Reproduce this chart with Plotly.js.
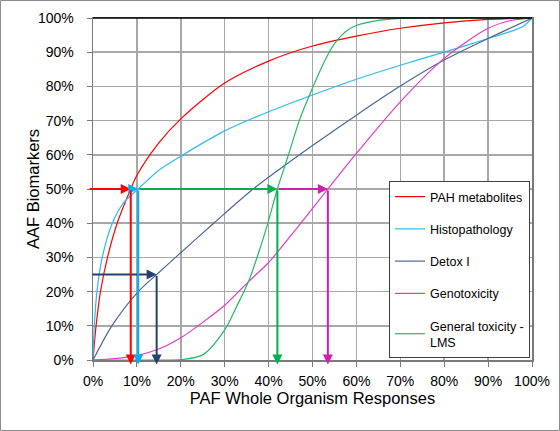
<!DOCTYPE html>
<html>
<head>
<meta charset="utf-8">
<script src="https://cdn.plot.ly/plotly-3.0.1.min.js"></script>
<style>html,body{margin:0;padding:0;background:#fff;}#chart{width:560px;height:431px;}</style>
</head>
<body>
<div id="chart"></div>
<script>
// ---- Data (percent) ----
const seriesNames = ['PAH metabolites', 'Histopathology', 'Detox I', 'Genotoxicity', 'General toxicity -<br>LMS'];
const seriesColors = ['#ff0000', '#2dbcf2', '#4a6894', '#e03cc4', '#25b868'];
const arrowColors = ['#ff0000', '#00b0f0', '#24416f', '#d01fae', '#00b050'];

const pahX = [0, 0.7, 1.7, 3.3, 5.5, 8.6, 10, 15, 20, 30, 40, 50, 60, 70, 80, 90, 100];
const pahY = [0, 10, 20, 30, 40, 50, 54, 63.5, 70.5, 81, 87.4, 91.8, 94.7, 97, 98.6, 99.6, 100];

const histoX = [0, 0.3, 0.9, 2.1, 4.4, 7, 10.3, 15, 20, 30, 40, 50, 60, 70, 80, 90, 95, 98, 100];
const histoY = [0, 10, 20, 30, 40, 46, 50, 55.5, 59.6, 67, 72.6, 77.5, 82.1, 86.2, 90, 94, 96, 97.6, 100];

const detoxX = [0, 4.3, 10.3, 14.5, 18.8, 27.5, 36.5, 50, 60, 70, 80, 90, 100];
const detoxY = [0, 10, 20, 25, 30, 40, 50, 62.7, 71.6, 80.1, 87.7, 94, 100];

const genoX = [0, 5, 10, 15, 20, 25, 30, 35.5, 40, 46.4, 53.5, 60, 70, 80, 90, 95, 100];
const genoY = [0, 0.4, 1.3, 3.2, 6.5, 11, 16, 23, 28.5, 38.5, 50, 60.4, 75.5, 88.2, 97, 99.2, 100];

const genX = [0, 10, 15, 20, 25, 30, 32.7, 35.5, 37.5, 39.6, 42, 44.4, 47, 50, 52.8, 55, 57.5, 60, 65, 70, 75, 80, 100];
const genY = [0, 0, 0, 0.1, 1.5, 8.8, 15.6, 23.2, 30.5, 39, 50, 59.5, 70, 79.5, 87.5, 92.5, 96, 97.8, 99.3, 99.9, 100, 100, 100];

// read-off arrows: level (y) and the x where each curve reaches that level
const readLevel = [50, 50, 25, 50, 50];
const readX = [8.6, 10.3, 14.5, 53.5, 42.0];
const readStartX = [-1.1, 8.6, -0.5, 42.0, 10.3];
const axisDrop = -1.3;        // arrow tips just below the x axis
const spanY = -2.1;           // double arrow below axis
const spanX = [8.6, 53.5];

const tickVals = [0,10,20,30,40,50,60,70,80,90,100];
const tickText = tickVals.map(v => v + '%');

const xTitle = 'PAF Whole Organism Responses';
const yTitle = 'AAF Biomarkers';

// ---- Traces ----
const xs = [pahX, histoX, detoxX, genoX, genX];
const ys = [pahY, histoY, detoxY, genoY, genY];
const traces = xs.map((x, i) => ({
  x: x, y: ys[i], type: 'scatter', mode: 'lines', name: seriesNames[i],
  legendgroup: 'g' + i,
  line: {color: seriesColors[i], width: 1.2, shape: 'spline', smoothing: 0.8},
  cliponaxis: true, hoverinfo: 'skip'
}));

const W = 560, H = 431, M = {l: 93, r: 28, t: 18, b: 71};
const pw = W - M.l - M.r, ph = H - M.t - M.b;
const fx = px => (px - M.l) / pw;
const fy = py => (H - M.b - py) / ph;

const font = 'Arial, "Liberation Sans", sans-serif';

// ---- Annotations (arrows) ----
const ann = [];
for (let i = 0; i < 5; i++) {
  ann.push({x: readX[i], y: readLevel[i], ax: readStartX[i], ay: readLevel[i],
    xref: 'x', yref: 'y', axref: 'x', ayref: 'y', text: '', showarrow: true,
    arrowhead: 2, arrowsize: 1, arrowwidth: 2, arrowcolor: arrowColors[i], standoff: 0});
}
for (let i = 0; i < 5; i++) {
  ann.push({x: readX[i], y: axisDrop, ax: readX[i], ay: readLevel[i],
    xref: 'x', yref: 'y', axref: 'x', ayref: 'y', text: '', showarrow: true,
    arrowhead: 2, arrowsize: 1, arrowwidth: 2, arrowcolor: arrowColors[i], standoff: 0});
}
ann.push({x: spanX[1], y: spanY, ax: spanX[0], ay: spanY,
  xref: 'x', yref: 'y', axref: 'x', ayref: 'y', text: '', showarrow: true,
  arrowhead: 2, startarrowhead: 2, arrowside: 'end+start', arrowsize: 1, startarrowsize: 1,
  arrowwidth: 1.5, arrowcolor: '#000000', standoff: 0, startstandoff: 0});
// y axis title
ann.push({text: yTitle, xref: 'paper', yref: 'paper', x: fx(33), y: 0.5, textangle: -90,
  showarrow: false, xanchor: 'center', yanchor: 'middle',
  font: {family: font, size: 16.5, color: '#000'}});

const axisCommon = {
  range: [0, 100], tickvals: tickVals, ticktext: tickText,
  showgrid: true, gridcolor: '#a8a8a8', gridwidth: 1.5,
  zeroline: false, showline: true, linecolor: '#7a7a7a', linewidth: 1.5, mirror: true,
  ticks: 'outside', ticklen: 5, tickcolor: '#7a7a7a', tickwidth: 1,
  tickfont: {family: font, size: 14, color: '#000'}, fixedrange: true
};

const layout = {
  width: W, height: H, margin: M, paper_bgcolor: '#fff', plot_bgcolor: '#fff',
  font: {family: font, color: '#000'},
  xaxis: Object.assign({}, axisCommon, {
    title: {text: xTitle, font: {family: font, size: 16.5, color: '#000'}, standoff: 0},
    ticklabelstandoff: 3
  }),
  yaxis: Object.assign({}, axisCommon, {
    ticklabelstandoff: 10
  }),
  showlegend: true,
  legend: {x: fx(530), xanchor: 'right', y: fy(358), yanchor: 'bottom',
    bgcolor: '#fff', bordercolor: '#404040', borderwidth: 1,
    font: {family: font, size: 12.5, color: '#000'}, tracegroupgap: 13, itemwidth: 30,
    traceorder: 'grouped'},
  annotations: ann,
  shapes: [
    {type: 'rect', xref: 'paper', yref: 'paper', x0: fx(0.5), x1: fx(W - 0.5), y0: fy(H - 0.5), y1: fy(0.5),
     line: {color: '#8c8c8c', width: 1}, layer: 'below'},
    {type: 'line', xref: 'paper', yref: 'paper', x0: 0, x1: 1, y0: 1, y1: 1,
     line: {color: '#000', width: 1.5}}
  ]
};

Plotly.newPlot('chart', traces, layout, {staticPlot: true, displayModeBar: false});
</script>
</body>
</html>
